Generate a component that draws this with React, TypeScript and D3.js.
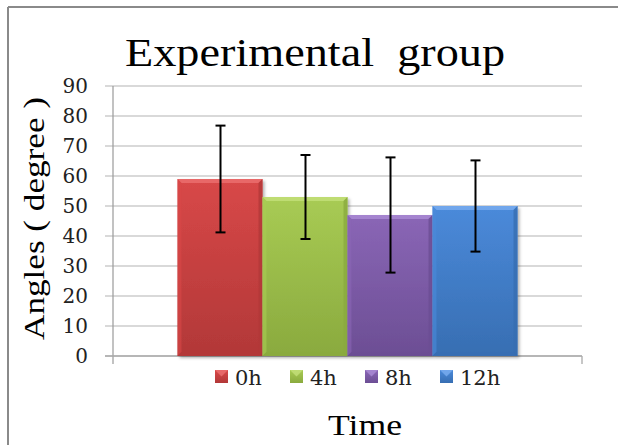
import React from "react";
import * as d3 from "d3";

const categories = ["0h", "4h", "8h", "12h"];
const means = [59, 53, 47, 50];
const errors = [17.8, 14, 19.2, 15.2];
const yTicks = [0, 10, 20, 30, 40, 50, 60, 70, 80, 90];
const colorsTop = ["#d84848", "#a8cb54", "#8a66b6", "#4b8ada"];
const colorsBottom = ["#b23838", "#8aaa3e", "#6c4e94", "#376eb2"];
const colorsLight = ["#ec7070", "#c4e07a", "#ab8cd6", "#7aaef0"];

const W = 618;
const H = 445;
const FONT = "'Liberation Serif', 'Times New Roman', serif";
const FONT2 = "'DejaVu Serif', serif";

export default function App() {
  const plotLeft = 113;
  const plotRight = 582;
  const y = d3.scaleLinear().domain([0, 90]).range([356, 86]);
  const groupCenter = (plotLeft + plotRight) / 2;
  const barW = 85;
  const x = d3
    .scaleBand<string>()
    .domain(categories)
    .range([groupCenter - barW * 2, groupCenter + barW * 2])
    .padding(0);

  return (
    <div style={{ position: "absolute", left: 0, top: 0 }}>
      <svg width={W} height={H} style={{ display: "block" }}>
        <defs>
          {categories.map((c, i) => (
            <linearGradient key={c} id={`g${i}`} x1="0" y1="0" x2="0" y2="1">
              <stop offset="0%" stopColor={colorsTop[i]} />
              <stop offset="100%" stopColor={colorsBottom[i]} />
            </linearGradient>
          ))}
          <filter id="sh" x="-10%" y="-10%" width="130%" height="130%">
            <feDropShadow dx="2" dy="2" stdDeviation="1.5" floodColor="#000" floodOpacity="0.3" />
          </filter>
        </defs>
        <rect x={0} y={0} width={W} height={H} fill="#fff" />
        {/* frame */}
        <line x1={8} y1={7} x2={W} y2={7} stroke="#8a8a8a" strokeWidth={2} />
        <line x1={8} y1={7} x2={8} y2={H} stroke="#8a8a8a" strokeWidth={2} />

        {/* title */}
        <text
          x={125}
          y={66}
          fontFamily={FONT}
          fontSize={40}
          fill="#000"
          textLength={380}
          lengthAdjust="spacingAndGlyphs"
        >
          {"Experimental\u00a0\u00a0group"}
        </text>

        {/* gridlines */}
        {yTicks.map((t) => (
          <g key={t}>
            <line
              x1={105}
              x2={plotRight}
              y1={y(t)}
              y2={y(t)}
              stroke="#b4b4b4"
              strokeWidth={1.2}
            />
            <text
              x={88}
              y={y(t) + 7}
              textAnchor="end"
              fontFamily={FONT2}
              fontSize={20}
              fill="#222"
            >
              {t}
            </text>
          </g>
        ))}
        {/* axes */}
        <line x1={plotLeft} x2={plotLeft} y1={86} y2={364} stroke="#999" strokeWidth={1.2} />
        <line x1={plotRight} x2={plotRight} y1={356} y2={364} stroke="#b4b4b4" strokeWidth={1.5} />
        <line x1={105} x2={plotRight} y1={356} y2={356} stroke="#aaa" strokeWidth={1.5} />

        {/* bars */}
        {categories.map((c, i) => {
          const x0 = x(c)!;
          const bw = x.bandwidth();
          const y0 = y(means[i]);
          const y1 = y(0);
          const b = 4;
          return (
            <g key={c}>
              <rect x={x0} y={y0} width={bw} height={y1 - y0} fill={`url(#g${i})`} filter="url(#sh)" />
              <polygon
                points={`${x0},${y0} ${x0 + bw},${y0} ${x0 + bw - b},${y0 + b} ${x0 + b},${y0 + b}`}
                fill={colorsLight[i]}
                opacity={0.8}
              />
              <polygon
                points={`${x0},${y0} ${x0 + b},${y0 + b} ${x0 + b},${y1 - b} ${x0},${y1}`}
                fill={colorsTop[i]}
                opacity={0.6}
              />
              <polygon
                points={`${x0 + bw},${y0} ${x0 + bw - b},${y0 + b} ${x0 + bw - b},${y1 - b} ${x0 + bw},${y1}`}
                fill={colorsBottom[i]}
                opacity={0.8}
              />
              <polygon
                points={`${x0},${y1} ${x0 + b},${y1 - b} ${x0 + bw - b},${y1 - b} ${x0 + bw},${y1}`}
                fill={colorsBottom[i]}
                opacity={0.9}
              />
            </g>
          );
        })}

        {/* error bars */}
        {categories.map((c, i) => {
          const cx = x(c)! + x.bandwidth() / 2 + 0.5;
          const yt = y(means[i] + errors[i]);
          const yb = y(means[i] - errors[i]);
          return (
            <g key={c} stroke="#000" strokeWidth={2}>
              <line x1={cx} x2={cx} y1={yt} y2={yb} />
              <line x1={cx - 5} x2={cx + 5} y1={yt} y2={yt} />
              <line x1={cx - 5} x2={cx + 5} y1={yb} y2={yb} />
            </g>
          );
        })}

        {/* legend */}
        {categories.map((c, i) => {
          const lx = 215 + i * 75;
          const ly = 370;
          const s = 13;
          return (
            <g key={c}>
              <rect x={lx} y={ly} width={s} height={s} fill={`url(#g${i})`} />
              <polygon
                points={`${lx},${ly} ${lx + s},${ly} ${lx + s / 2},${ly + s / 2}`}
                fill={colorsLight[i]}
                opacity={0.8}
              />
              <text x={lx + s + 7} y={385} fontFamily={FONT2} fontSize={21} fill="#222">
                {c}
              </text>
            </g>
          );
        })}

        {/* axis titles */}
        <text
          x={328}
          y={435}
          fontFamily={FONT}
          fontSize={29}
          fill="#000"
          textLength={74}
          lengthAdjust="spacingAndGlyphs"
        >
          Time
        </text>
        <text
          transform={`translate(44, 340) rotate(-90)`}
          fontFamily={FONT}
          fontSize={29}
          fill="#000"
          textLength={243}
          lengthAdjust="spacingAndGlyphs"
        >
          Angles ( degree )
        </text>
      </svg>
    </div>
  );
}
